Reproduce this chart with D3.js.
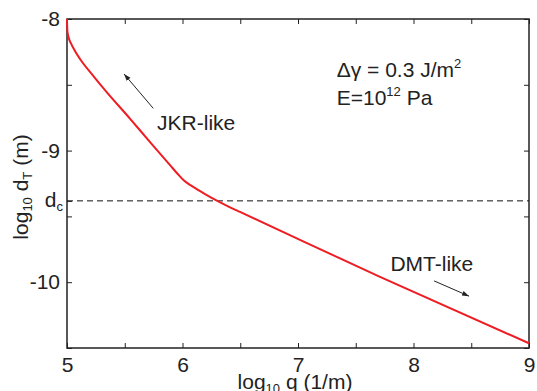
<!DOCTYPE html>
<html>
<head>
<meta charset="utf-8">
<script src="https://cdn.jsdelivr.net/npm/d3@7"></script>
<style>
  body { margin: 0; background: #fff; }
  text { font-family: "Liberation Sans", Arial, Helvetica, sans-serif; fill: #222; }
</style>
</head>
<body>
<svg id="chart" width="537" height="391"></svg>
<script>
// Données (log10 q, log10 dT)
var logQ = [5, 5.0026, 5.013, 5.0346, 5.069, 5.119, 5.234, 5.329, 5.545, 5.719, 5.892,
  5.961, 6.013, 6.065, 6.126, 6.195, 6.281, 6.411, 6.498, 7.71, 9]
var logD = [-8, -8.084, -8.137, -8.185, -8.243, -8.312, -8.439, -8.54, -8.757, -8.935, -9.11,
  -9.18, -9.228, -9.261, -9.294, -9.331, -9.373, -9.431, -9.466, -9.96, -10.464]

var xTicks = [5, 5.5, 6, 6.5, 7, 7.5, 8, 8.5, 9]
var yTicks = [-8, -8.5, -9, -9.5, -10, -10.5]
var dc = -9.382

// Annotations (coordonnées dans l'espace des données)
var jkrArrow = [[5.747, -8.679], [5.494, -8.418]]
var dmtArrow = [[8.178, -9.99], [8.481, -10.106]]
var jkrLabel = [5.78, -8.844]
var dmtLabel = [7.8, -9.914]
var paramLabel = [7.335, -8.44]

var width = 537
var height = 391
var margin = { top: 19, right: 8, bottom: 43, left: 67 }
var graphWidth = width - margin.left - margin.right
var graphHeight = height - margin.top - margin.bottom

var svg = d3.select('#chart')
var graph = svg.append('g')
  .attr('transform', 'translate(' + margin.left + ',' + margin.top + ')')

var xScale = d3.scaleLinear().domain([5, 9]).range([0, graphWidth])
var yScale = d3.scaleLinear().domain([-10.5, -8]).range([graphHeight, 0])

function intLabel (d) {
  return Number.isInteger(d) ? String(d).replace('\u2212', '-') : ''
}

// Axes (graduations vers l'intérieur sur les quatre côtés)
graph.append('g')
  .attr('transform', 'translate(0,' + graphHeight + ')')
  .call(d3.axisBottom(xScale).tickValues(xTicks).tickSizeInner(-5).tickSizeOuter(0)
    .tickPadding(9).tickFormat(intLabel))
graph.append('g')
  .call(d3.axisTop(xScale).tickValues(xTicks).tickSizeInner(-5).tickSizeOuter(0).tickFormat(''))
graph.append('g')
  .call(d3.axisLeft(yScale).tickValues(yTicks.concat([dc])).tickSizeInner(-5).tickSizeOuter(0)
    .tickPadding(7).tickFormat(intLabel))
graph.append('g')
  .attr('transform', 'translate(' + graphWidth + ',0)')
  .call(d3.axisRight(yScale).tickValues(yTicks).tickSizeInner(-5).tickSizeOuter(0).tickFormat(''))

graph.selectAll('.domain').remove()
graph.selectAll('.tick line').attr('stroke', '#222').attr('stroke-width', 1)
graph.selectAll('.tick text').attr('font-size', 21).attr('fill', '#222')
  .style('font-family', '"Liberation Sans", Arial, sans-serif')

// Cadre
graph.append('rect')
  .attr('width', graphWidth)
  .attr('height', graphHeight)
  .attr('fill', 'none')
  .attr('stroke', '#222')
  .attr('stroke-width', 1.5)

// Ligne pointillée d_c
graph.append('line')
  .attr('x1', 0).attr('x2', graphWidth)
  .attr('y1', yScale(dc)).attr('y2', yScale(dc))
  .attr('stroke', '#111')
  .attr('stroke-width', 1)
  .attr('stroke-dasharray', '6,4')

var dcText = graph.append('text')
  .attr('x', -4)
  .attr('y', yScale(dc) + 6)
  .attr('text-anchor', 'end')
  .attr('font-size', 21)
dcText.append('tspan').text('d')
dcText.append('tspan').attr('font-size', 13).attr('dy', 4).text('c')

// Courbe
var points = logQ.map(function (q, i) { return [q, logD[i]] })
var line = d3.line()
  .x(function (d) { return xScale(d[0]) })
  .y(function (d) { return yScale(d[1]) })
  .curve(d3.curveMonotoneX)

graph.append('path')
  .datum(points)
  .attr('d', line)
  .attr('fill', 'none')
  .attr('stroke', '#ee1d24')
  .attr('stroke-width', 2)

// Flèches
svg.append('defs').append('marker')
  .attr('id', 'head')
  .attr('viewBox', '0 0 10 10')
  .attr('refX', 10).attr('refY', 5)
  .attr('markerWidth', 7).attr('markerHeight', 7)
  .attr('markerUnits', 'userSpaceOnUse')
  .attr('orient', 'auto')
  .append('path')
  .attr('d', 'M0,1.5L10,5L0,8.5Z')
  .attr('fill', '#222')

;[jkrArrow, dmtArrow].forEach(function (a) {
  graph.append('line')
    .attr('x1', xScale(a[0][0])).attr('y1', yScale(a[0][1]))
    .attr('x2', xScale(a[1][0])).attr('y2', yScale(a[1][1]))
    .attr('stroke', '#222')
    .attr('stroke-width', 1)
    .attr('marker-end', 'url(#head)')
})

graph.append('text')
  .attr('x', xScale(jkrLabel[0])).attr('y', yScale(jkrLabel[1]))
  .attr('font-size', 21)
  .text('JKR-like')
graph.append('text')
  .attr('x', xScale(dmtLabel[0])).attr('y', yScale(dmtLabel[1]))
  .attr('font-size', 21)
  .text('DMT-like')

var p1 = graph.append('text')
  .attr('x', xScale(paramLabel[0])).attr('y', yScale(paramLabel[1]))
  .attr('font-size', 21)
p1.append('tspan').text('\u0394\u03b3 = 0.3 J/m')
p1.append('tspan').attr('font-size', 13).attr('dy', -9).text('2')

var p2 = graph.append('text')
  .attr('x', xScale(paramLabel[0])).attr('y', yScale(paramLabel[1]) + 28)
  .attr('font-size', 21)
p2.append('tspan').text('E=10')
p2.append('tspan').attr('font-size', 13).attr('dy', -9).text('12')
p2.append('tspan').attr('dy', 9).text(' Pa')

// Titres des axes
var xt = svg.append('text')
  .attr('x', 295).attr('y', 389)
  .attr('text-anchor', 'middle')
  .attr('font-size', 21)
xt.append('tspan').text('log')
xt.append('tspan').attr('font-size', 13).attr('dy', 4).text('10')
xt.append('tspan').attr('dy', -4).text(' q (1/m)')

var yt = svg.append('text')
  .attr('transform', 'translate(28,187) rotate(-90)')
  .attr('text-anchor', 'middle')
  .attr('font-size', 21)
yt.append('tspan').text('log')
yt.append('tspan').attr('font-size', 13).attr('dy', 4).text('10')
yt.append('tspan').attr('dy', -4).text(' d')
yt.append('tspan').attr('font-size', 13).attr('dy', 4).text('T')
yt.append('tspan').attr('dy', -4).text(' (m)')
</script>
</body>
</html>
